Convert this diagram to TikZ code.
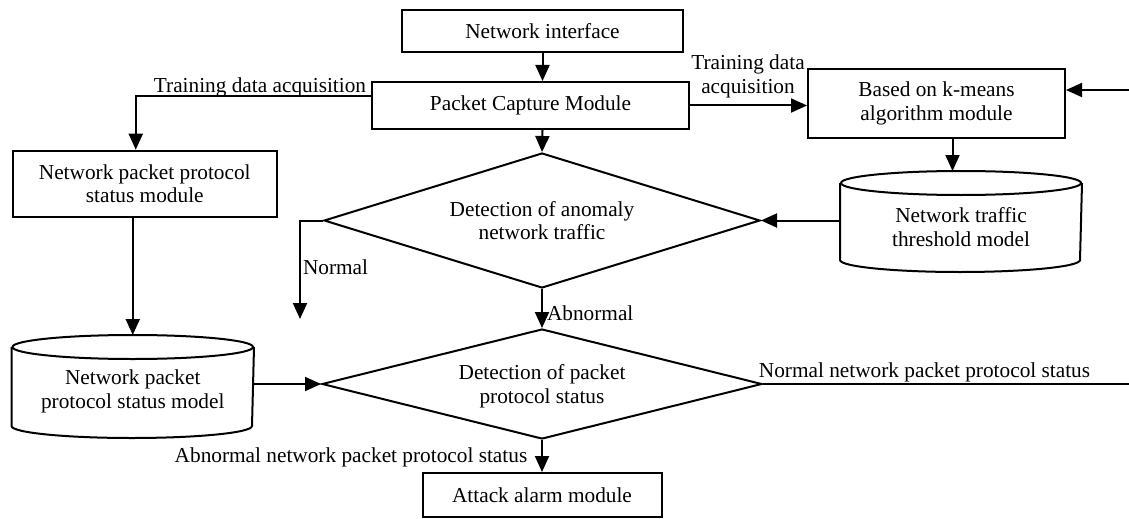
\documentclass[tikz,border=0pt]{standalone}
\usepackage{fontspec}
\setmainfont{Liberation Serif}
\usetikzlibrary{shapes.geometric,arrows.meta,calc}

\begin{document}
\begin{tikzpicture}[x=0.5pt,y=-0.5pt,
  font=\fontsize{10.65}{11.8}\selectfont,
  line width=1pt,
  arr/.style={-{Triangle[length=8pt,width=7pt]}},
  box/.style={draw, rectangle, inner sep=0pt, align=center},
  decision/.style={draw, diamond, inner sep=0pt, align=center},
  dbody/.style={inner sep=0pt, align=center},
  lbl/.style={inner sep=0pt, align=center}]

\useasboundingbox (0,0) rectangle (1129,519);

% modules
\node[box, minimum width=140.5pt, minimum height=21pt] (ni) at (542.5,31) {Network interface};
\node[box, minimum width=158.5pt, minimum height=23.5pt] (pc) at (530.5,105.5) {Packet Capture Module};
\node[box, minimum width=128.5pt, minimum height=34.5pt] (km) at (936.5,103.5) {Based on k-means\\algorithm module};
\node[box, minimum width=132.25pt, minimum height=33pt] (npm) at (144.75,183.7) {Network packet protocol\\status module};
\node[box, minimum width=119.5pt, minimum height=22pt] (alarm) at (542,495) {Attack alarm module};

% decisions
\node[decision, aspect=3.23, minimum width=218pt, minimum height=67.5pt] (d1) at (542,220.5) {Detection of anomaly\\network traffic};
\node[decision, aspect=4, minimum width=220pt, minimum height=55pt] (d2) at (542,384) {\rule{0pt}{10pt}Detection of packet\\protocol status};

% data stores (cylinders): body node plus drawn end ellipses
\node[dbody, minimum width=120.25pt, minimum height=38.5pt] (npmodel) at (132.75,386.5) {\rule{0pt}{12pt}Network packet\\protocol status model};
\draw (npmodel.north west) -- (npmodel.south west)
  arc[start angle=180, end angle=360, x radius=60.125pt, y radius=6pt] -- (npmodel.north east);
\draw (npmodel.north) ellipse [x radius=60.125pt, y radius=6pt];

\node[dbody, minimum width=120pt, minimum height=37.5pt] (th) at (961,221.5) {\rule{0pt}{13pt}Network traffic\\threshold model};
\draw (th.north west) -- (th.south west)
  arc[start angle=180, end angle=360, x radius=60pt, y radius=6pt] -- (th.north east);
\draw (th.north) ellipse [x radius=60pt, y radius=6pt];

% helper points
\coordinate (npmtop) at ($(npmodel.north)+(0,-12)$);
\coordinate (thtop) at ($(th.north)+(0,-12)$);
\coordinate (pcl) at ($(pc.west)+(0,-9)$);
\coordinate (npmin) at ([xshift=-4.5pt]npm.north);
\coordinate (kmout) at ([xshift=8pt]km.south);
\coordinate (nend) at (300,319);
\coordinate (nout) at (1129,384);
\coordinate (kin) at (1129,90);

% connectors
\draw[arr] (ni.south) -- (ni.south |- pc.north);
\draw[arr] (ni.south |- pc.south) -- (d1.north);
\draw[arr] (pcl) -| (npmin);
\draw[arr] (pc.east) -- (pc.east -| km.west);
\draw[arr] (kin) -- (kin -| km.east);
\draw[arr] (kmout) -- (kmout |- thtop);
\draw[arr] (th.west |- d1.east) -- (d1.east);
\draw[arr] (npm.south -| npmodel.north) -- (npmtop);
\draw[arr] (d2.west -| npmodel.east) -- (d2.west);
\draw[arr] (d1.west) -| (nend);
\draw[arr] (d1.south) -- (d2.north);
\draw (d2.east) -- (nout);
\draw[arr] (d2.south) -- (alarm.north);

% connector labels
\node[lbl] (l1) at (260,87) {Training data acquisition};
\node[lbl] (l2) at (748,76.5) {Training data\\acquisition};
\node[lbl, anchor=west] (l3) at (302,267) {Normal};
\node[lbl, anchor=west] (l4) at (546,313) {Abnormal};
\node[lbl] (l5) at (924.5,372) {Normal network packet protocol status};
\node[lbl] (l6) at (351,457) {Abnormal network packet protocol status};
\end{tikzpicture}
\end{document}
